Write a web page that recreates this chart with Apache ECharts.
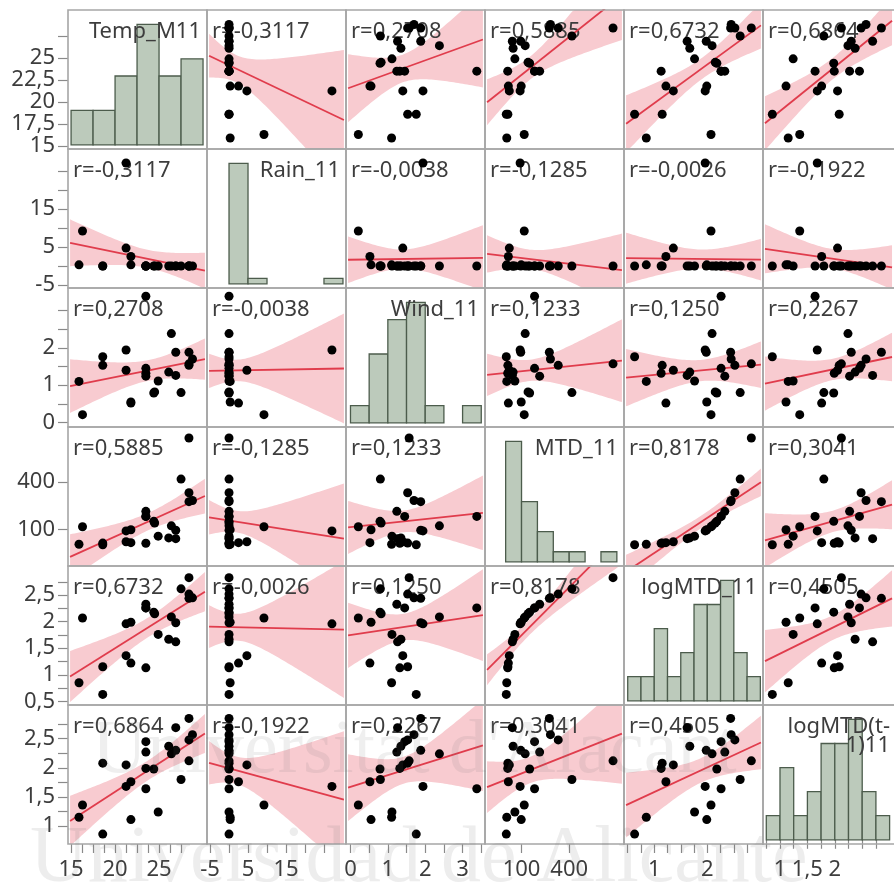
<!DOCTYPE html>
<html>
<head>
<meta charset="utf-8">
<script src="https://cdn.jsdelivr.net/npm/echarts@6/dist/echarts.min.js"></script>
<style>
  html, body { margin: 0; padding: 0; background: #ffffff; }
  #chart { width: 894px; height: 888px; }
</style>
</head>
<body>
<div id="chart"></div>
<script>
// ---- Observations (one entry per station-year) ----
const variableNames = ['Temp_M11', 'Rain_11', 'Wind_11', 'MTD_11', 'logMTD_11', 'logMTD(t-1)11'];

const tempM11     = [18.6, 15.9, 21.8, 24.9, 16.3, 23.5, 21.25, 21.8, 24.4, 23.5, 18.6, 21.25, 27.5, 28.4, 26.4, 23.5, 26.9, 26.1, 23.5, 28.4, 28.8, 26.9, 28.4, 24.5];
const rain11      = [0, 0.3, 0.3, 0, 9.2, 0, 27.1, 2.5, 0, 0, 0, 4.7, 0, 0, 0, 0, 0, 0, 0, 0, 0, 0, 0, 0];
const wind11      = [1.76, 1.10, 0.55, 1.11, 0.21, 3.38, 1.94, 0.52, 0.79, 1.32, 1.53, 1.40, 0.80, 1.57, 2.38, 1.24, 1.88, 1.35, 1.45, 1.53, 1.70, 1.26, 1.88, 0.82];
const mtd11       = [4, 7, 98, 58, 117, 182, 91, 17, 151, 13, 14, 23, 417, 676, 123, 214, 95, 47, 182, 331, 282, 42, 275, 141];
const logMtd11    = [0.63, 0.85, 1.99, 1.76, 2.07, 2.26, 1.96, 1.22, 2.18, 1.13, 1.15, 1.36, 2.62, 2.83, 2.09, 2.33, 1.98, 1.67, 2.26, 2.52, 2.45, 1.62, 2.44, 2.15];
const logMtdPrev11 = [0.86, 1.15, 1.11, 1.24, 1.36, 1.64, 1.68, 1.76, 1.98, 1.99, 2.08, 2.05, 1.80, 2.12, 2.24, 2.27, 2.30, 2.37, 2.45, 2.48, 2.57, 2.69, 2.85, null];

const columns = [tempM11, rain11, wind11, mtd11, logMtd11, logMtdPrev11];

// ---- Correlation labels shown in each off-diagonal cell ----
const rTexts = [
  [null, 'r=-0,3117', 'r=0,2708', 'r=0,5885', 'r=0,6732', 'r=0,6864'],
  ['r=-0,3117', null, 'r=-0,0038', 'r=-0,1285', 'r=-0,0026', 'r=-0,1922'],
  ['r=0,2708', 'r=-0,0038', null, 'r=0,1233', 'r=0,1250', 'r=0,2267'],
  ['r=0,5885', 'r=-0,1285', 'r=0,1233', null, 'r=0,8178', 'r=0,3041'],
  ['r=0,6732', 'r=-0,0026', 'r=0,1250', 'r=0,8178', null, 'r=0,4505'],
  ['r=0,6864', 'r=-0,1922', 'r=0,2267', 'r=0,3041', 'r=0,4505', null]
];

// ---- Histogram bin counts on the diagonal ----
const tempHist = [2, 2, 4, 7, 4, 5];
const rainHist = [22, 1, 0, 0, 0, 1];
const windHist = [1, 4, 6, 7, 1, 0, 1];
const mtdHist = [12, 6, 3, 1, 1, 0, 1];
const logMtdHist = [1, 1, 3, 1, 2, 4, 4, 5, 2, 1];
const logMtdPrevHist = [1, 3, 1, 2, 4, 4, 5, 2, 1];
const histCounts = [tempHist, rainHist, windHist, mtdHist, logMtdHist, logMtdPrevHist];
const histStart = [15, 0, 0, 0, 0.5, 0.75];
const histWidth = [2.5, 5, 0.5, 100, 0.25, 0.25];

// ---- Tick positions and labels ----
const leftTicks = [
  [15, 17.5, 20, 22.5, 25, 27.5],
  [-5, 0, 5, 10, 15, 20, 25],
  [0, 0.5, 1, 1.5, 2, 2.5, 3],
  [100, 400],
  [0.5, 0.75, 1, 1.25, 1.5, 1.75, 2, 2.25, 2.5, 2.75],
  [1, 1.25, 1.5, 1.75, 2, 2.25, 2.5, 2.75]
];
const leftLabels = [
  [15, 17.5, 20, 22.5, 25],
  [-5, 5, 15],
  [0, 1, 2],
  [100, 400],
  [0.5, 1, 1.5, 2, 2.5],
  [1, 1.5, 2, 2.5]
];
const bottomTicks = [
  [15, 16.25, 17.5, 18.75, 20, 21.25, 22.5, 23.75, 25, 26.25, 27.5],
  [-5, 0, 5, 10, 15, 20, 25],
  [0, 0.5, 1, 1.5, 2, 2.5, 3, 3.5],
  [100, 400],
  [0.5, 0.75, 1, 1.25, 1.5, 1.75, 2, 2.25, 2.5, 2.75],
  [0.75, 1, 1.25, 1.5, 1.75, 2, 2.25, 2.5, 2.75]
];
const bottomLabels = [
  [15, 20, 25],
  [-5, 5, 15],
  [0, 1, 2, 3],
  [100, 400],
  [1, 2],
  [1, 1.5, 2]
];

// ---- Layout and scales ----
const axisRange = [[14.65, 30.45], [-5.8, 30.8], [-0.12, 3.6], [-130, 745], [0.43, 3.05], [0.69, 3.08]];
const CELL = 139, LEFT = 68, TOP = 10, NV = 6;
const FONT = '"Noto Sans", "Open Sans", sans-serif';
const TEXT_COLOR = '#3d3d3d';
const decimalComma = v => String(v).replace('.', ',');

// Least-squares fit with a 95% confidence band for the mean
function fitBand(xs, ys, lo, hi) {
  const pts = [];
  for (let i = 0; i < xs.length; i++) {
    if (xs[i] != null && ys[i] != null) pts.push([xs[i], ys[i]]);
  }
  const n = pts.length;
  const mx = pts.reduce((s, p) => s + p[0], 0) / n;
  const my = pts.reduce((s, p) => s + p[1], 0) / n;
  let sxx = 0, sxy = 0, syy = 0;
  pts.forEach(p => { sxx += (p[0] - mx) ** 2; sxy += (p[0] - mx) * (p[1] - my); syy += (p[1] - my) ** 2; });
  const b = sxy / sxx, a = my - b * mx;
  const s = Math.sqrt(Math.max(syy - b * sxy, 0) / (n - 2));
  const t = 2.07;
  const steps = 60;
  const band = [];
  for (let k = 0; k <= steps; k++) {
    const x = lo + (hi - lo) * k / steps;
    const yh = a + b * x;
    const h = t * s * Math.sqrt(1 / n + (x - mx) ** 2 / sxx);
    band.push([x, yh - h, yh + h]);
  }
  return { a, b, band };
}

const grids = [], xAxes = [], yAxes = [], series = [], graphics = [];

for (let r = 0; r < NV; r++) {
  for (let c = 0; c < NV; c++) {
    const g = r * NV + c;
    const left = LEFT + c * CELL, top = TOP + r * CELL;
    grids.push({ left, top, width: CELL, height: CELL, show: false, containLabel: false });

    const isBottom = r === NV - 1;
    xAxes.push({
      type: 'value', gridIndex: g, min: axisRange[c][0], max: axisRange[c][1],
      show: isBottom, position: 'bottom',
      axisLine: { show: false },
      splitLine: { show: false },
      axisTick: { show: isBottom, customValues: bottomTicks[c], length: 9, lineStyle: { color: '#8a8a8a', width: 1.2 } },
      axisLabel: { show: isBottom, customValues: bottomLabels[c], formatter: decimalComma, fontSize: 22, fontFamily: FONT, color: TEXT_COLOR, margin: 15 }
    });

    if (r === c) {
      const counts = histCounts[c];
      const maxCount = Math.max(...counts);
      yAxes.push({ type: 'value', gridIndex: g, min: -0.035 * maxCount, max: 1.12 * maxCount, show: false, splitLine: { show: false } });
      const bins = [];
      counts.forEach((n, i) => {
        if (n > 0) bins.push([histStart[c] + i * histWidth[c], histStart[c] + (i + 1) * histWidth[c], n]);
      });
      series.push({
        type: 'custom', xAxisIndex: g, yAxisIndex: g, z: 1, silent: true, clip: true,
        data: bins,
        renderItem: (params, api) => {
          const p0 = api.coord([api.value(0), 0]);
          const p1 = api.coord([api.value(1), api.value(2)]);
          return {
            type: 'rect',
            shape: { x: p0[0], y: p1[1], width: p1[0] - p0[0], height: p0[1] - p1[1] },
            style: { fill: '#bccabb', stroke: '#4c5c4c', lineWidth: 1.3 }
          };
        }
      });
    } else {
      yAxes.push({ type: 'value', gridIndex: g, min: axisRange[r][0], max: axisRange[r][1], show: false, splitLine: { show: false } });
      const xs = columns[c], ys = columns[r];
      const [xlo, xhi] = axisRange[c];
      const [ylo, yhi] = axisRange[r];
      const f = fitBand(xs, ys, xlo + 0.015 * (xhi - xlo), xhi - 0.015 * (xhi - xlo));
      const band = f.band;
      const clampY = v => Math.min(Math.max(v, ylo), yhi);

      series.push({
        type: 'custom', xAxisIndex: g, yAxisIndex: g, z: 1, silent: true, clip: true,
        data: [[band[0][0], band[0][1]]],
        renderItem: (params, api) => {
          const upper = band.map(p => api.coord([p[0], clampY(p[2])]));
          const lower = band.slice().reverse().map(p => api.coord([p[0], clampY(p[1])]));
          return { type: 'polygon', shape: { points: upper.concat(lower) }, style: { fill: '#f8cbd0' } };
        }
      });
      series.push({
        type: 'line', xAxisIndex: g, yAxisIndex: g, z: 3, silent: true, clip: true,
        symbol: 'none', data: [[band[0][0], f.a + f.b * band[0][0]], [band[band.length - 1][0], f.a + f.b * band[band.length - 1][0]]],
        lineStyle: { color: '#e03c4c', width: 1.8 }
      });
      const pts = [];
      for (let i = 0; i < xs.length; i++) if (xs[i] != null && ys[i] != null) pts.push([xs[i], ys[i]]);
      series.push({
        type: 'scatter', xAxisIndex: g, yAxisIndex: g, z: 4, silent: true, clip: true,
        symbol: 'circle', symbolSize: 9, data: pts,
        itemStyle: { color: '#000000', opacity: 1 }
      });

      graphics.push({
        type: 'text', z: 2, x: left + 5, y: top + 22,
        style: { text: rTexts[r][c], font: '22px ' + FONT, fill: TEXT_COLOR, textAlign: 'left', textVerticalAlign: 'middle' }
      });
    }

    graphics.push({
      type: 'rect', z: 5, silent: true,
      shape: { x: left, y: top, width: CELL, height: CELL },
      style: { fill: 'none', stroke: '#a6a6a6', lineWidth: 1.6 }
    });
  }
}

// Value-scale axes down the left side, one per row
for (let r = 0; r < NV; r++) {
  yAxes.push({
    type: 'value', gridIndex: r * NV, min: axisRange[r][0], max: axisRange[r][1], position: 'left',
    axisLine: { show: false }, splitLine: { show: false },
    axisTick: { show: true, customValues: leftTicks[r], length: 10, lineStyle: { color: '#8a8a8a', width: 1.2 } },
    axisLabel: { customValues: leftLabels[r], formatter: decimalComma, fontSize: 22, fontFamily: FONT, color: TEXT_COLOR, margin: 13 }
  });
}

// Variable names on the diagonal
for (let i = 0; i < NV; i++) {
  const right = Math.min(LEFT + (i + 1) * CELL - 6, 890);
  const parts = i === NV - 1 ? ['logMTD(t-', '1)11'] : [variableNames[i]];
  parts.forEach((txt, k) => {
    graphics.push({
      type: 'text', z: 2, x: right, y: TOP + i * CELL + 22 + k * 19,
      style: { text: txt, font: '22px ' + FONT, fill: TEXT_COLOR, textAlign: 'right', textVerticalAlign: 'middle' }
    });
  });
}

// Institutional watermark
graphics.push({
  type: 'text', z: 6, silent: true, x: 92, y: 790,
  style: { text: "Universitat d'Alacant", font: '76px "Liberation Serif", serif', fill: 'rgba(110,110,110,0.11)', textAlign: 'left', textVerticalAlign: 'bottom' }
});
graphics.push({
  type: 'text', z: 6, silent: true, x: 30, y: 900,
  style: { text: 'Universidad de Alicante', font: '80px "Liberation Serif", serif', fill: 'rgba(110,110,110,0.12)', textAlign: 'left', textVerticalAlign: 'bottom' }
});

const chart = echarts.init(document.getElementById('chart'), null, { renderer: 'canvas' });
chart.setOption({
  animation: false,
  backgroundColor: '#ffffff',
  grid: grids,
  xAxis: xAxes,
  yAxis: yAxes,
  series: series,
  graphic: { elements: graphics }
});
</script>
</body>
</html>
